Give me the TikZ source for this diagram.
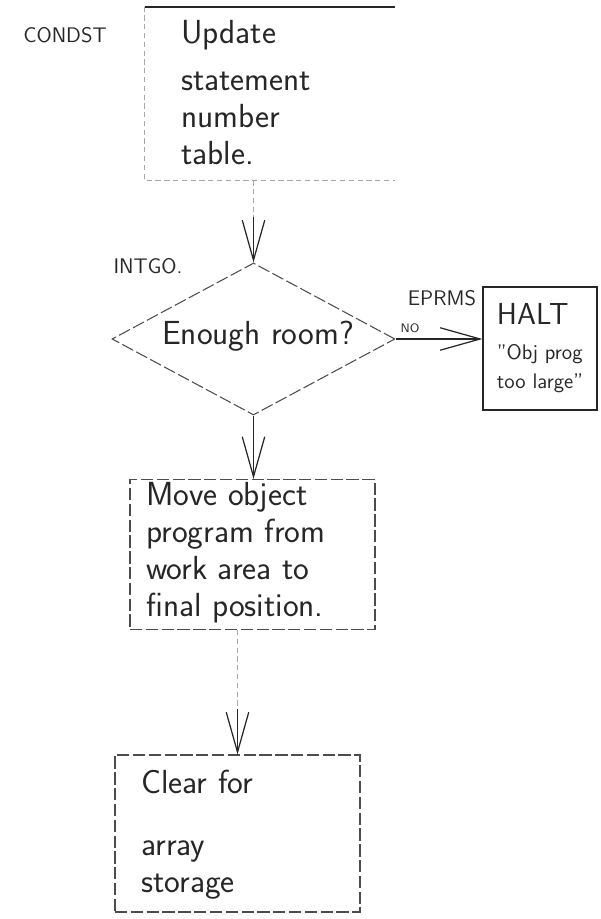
\documentclass[tikz,border=0pt]{standalone}
\usepackage{tikz}
\usetikzlibrary{arrows.meta,shapes.geometric}

\tikzset{
  pen/.style={draw=black!85, line width=0.7pt},
  broken/.style={draw=black!70, line width=0.6pt, dash pattern=on 7pt off 2pt},
  faint/.style={draw=black!35, line width=0.6pt, dash pattern=on 3pt off 2pt},
  hand/.style={font=\sffamily\fontsize{19}{21}\selectfont, align=left, text=black!85},
  tag/.style={font=\sffamily\large, text=black!85},
  flow/.style={pen, -{Straight Barb[length=8mm,width=4.5mm]}},
}

\begin{document}
\begin{tikzpicture}[scale=1.0]
\useasboundingbox (0,0) rectangle (12,18.38);

% Statement number table
\node[minimum width=5cm, minimum height=3.46cm] (upd) at (5.4,16.51) {};
\draw[pen, line width=1.1pt] (upd.north west) -- (upd.north east);
\draw[faint] (upd.north west) -- (upd.south west) -- (upd.south east);
\node[hand, anchor=north west] (updtxt) at (3.5,18.1) {Update\\[2mm] statement\\ number\\ table.};
\node[tag] (condst) at (1.3,17.68) {CONDST};

% Room test
\node[diamond, broken, minimum width=5.66cm, minimum height=3.04cm, inner sep=0pt] (room) at (5.07,11.6) {};
\node[hand] (roomtxt) at (5.16,11.66) {Enough room?};
\node[tag] (intgo) at (2.96,13.06) {INTGO.};

\draw[faint] (upd.south -| room.north) -- ([yshift=9mm]room.north);
\draw[flow] ([yshift=9mm]room.north) -- (room.north);

% Halt branch
\node[pen, minimum width=2.28cm, minimum height=2.46cm, align=left, font=\sffamily\large, text=black!85, inner sep=2pt] (halt) at (10.8,11.41)
  {{\LARGE HALT}\\[2mm] "Obj prog\\[1mm] too large"};
\node[tag] (eprms) at (8.84,12.42) {EPRMS};
\node[font=\sffamily\scriptsize, text=black!85] (no) at (8.2,11.82) {NO};
\draw[flow] (room.east) -- (room.east -| halt.west);

% Move object program
\node[broken, minimum width=4.9cm, minimum height=3.0cm] (move) at (5.05,7.29) {};
\node[hand, anchor=north west] (movetxt) at (2.8,8.85) {Move object\\ program from\\ work area to\\ final position.};
\draw[flow] (room.south) -- (room.south |- move.north);

% Array storage
\node[broken, minimum width=4.9cm, minimum height=3.14cm] (clear) at (4.75,1.71) {};
\node[hand, anchor=north west] (cleartxt) at (2.7,3.1) {Clear for\\[5mm] array\\ storage};
\draw[faint] (move.south -| clear.north) -- ([yshift=9mm]clear.north);
\draw[flow] ([yshift=9mm]clear.north) -- (clear.north);
\end{tikzpicture}
\end{document}
